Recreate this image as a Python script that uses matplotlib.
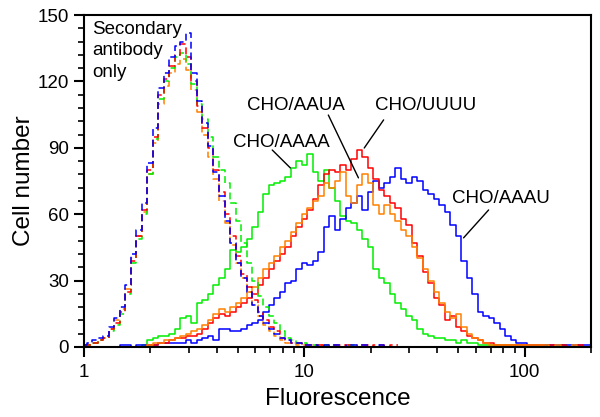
import numpy as np
import matplotlib
matplotlib.use("Agg")
import matplotlib.pyplot as plt
from matplotlib.ticker import FixedLocator, LogLocator, NullFormatter, FixedFormatter

plt.rcParams['font.family'] = ['Liberation Sans', 'DejaVu Sans']

# channel grid: log10(fluorescence) in steps of 0.025 decade, 1 .. ~200
log_step = 0.025
n_channels = 93
fluor = 10 ** (np.arange(n_channels) * log_step)

# ---- secondary antibody only (dashed) ----
sec_blue = [1, 2, 3, 4, 5, 9, 13, 18, 28, 42, 53, 65, 83, 99, 117, 124, 131, 136, 138, 142,
            124, 111, 101, 91, 79, 68, 57, 47, 38, 31, 25, 19, 14, 11, 8, 6, 4, 3, 2, 2,
            1, 1, 1, 0, 1, 1, 1, 0, 1, 1, 1, 1, 0, 0, 1, 0]
sec_red = [1, 1, 2, 3, 4, 8, 11, 16, 25, 39, 50, 62, 80, 95, 114, 121, 127, 132, 137, 131,
           120, 109, 99, 90, 80, 70, 60, 50, 41, 33, 27, 21, 16, 12, 9, 7, 4, 3, 2, 2,
           1, 1, 1, 1, 0, 1, 1, 1, 1, 0, 1, 1, 0, 1, 1, 0, 1, 1]
sec_green = [1, 1, 2, 3, 4, 7, 10, 15, 24, 38, 49, 60, 78, 94, 112, 120, 126, 131, 133, 128,
             119, 110, 103, 95, 86, 80, 74, 65, 57, 47, 38, 30, 23, 18, 14, 11, 7, 4, 3, 2,
             2, 1, 1, 1, 1, 0, 1, 0, 1, 1, 0, 0]
sec_orange = [1, 1, 2, 3, 4, 8, 12, 17, 26, 40, 50, 61, 78, 92, 110, 118, 124, 128, 130, 125,
              116, 106, 96, 86, 76, 66, 56, 46, 38, 31, 25, 19, 14, 10, 7, 5, 3, 2, 2, 1,
              1, 1, 0, 1, 1, 0, 1]

# ---- specific staining (solid) ----
cho_aaaa = [0, 0, 0, 0, 0, 0, 0, 0, 0, 0, 0, 1, 3, 4, 5, 5, 6, 8, 13, 14,
            11, 20, 21, 24, 28, 31, 35, 44, 43, 45, 49, 54, 61, 69, 73, 74, 75, 77, 81, 84,
            82, 87, 79, 75, 80, 72, 66, 59, 57, 56, 53, 49, 45, 35, 31, 29, 24, 20, 17, 14,
            12, 8, 6, 5, 4, 4, 3, 3, 2, 3, 2, 2, 1, 1, 1, 1, 1, 1, 1, 1,
            1, 0, 1, 0, 1, 0, 0, 1, 0, 0, 0, 0, 0]
cho_uuuu = [0, 0, 0, 0, 0, 0, 0, 0, 0, 0, 0, 0, 1, 1, 2, 2, 3, 4, 4, 5,
            5, 6, 8, 11, 13, 15, 14, 16, 18, 20, 22, 24, 28, 31, 35, 39, 42, 45, 50, 54,
            58, 62, 67, 73, 78, 80, 79, 82, 80, 85, 89, 86, 81, 76, 71, 68, 65, 63, 58, 55,
            47, 41, 34, 29, 22, 19, 12, 14, 9, 7, 5, 4, 3, 2, 2, 1, 1, 1, 1, 1,
            1, 1, 1, 1, 0, 1, 0, 1, 0, 0, 1, 0, 0]
cho_aaua = [0, 0, 0, 0, 0, 0, 0, 0, 0, 0, 0, 0, 1, 2, 2, 3, 3, 4, 5, 6,
            7, 8, 10, 12, 15, 17, 16, 18, 20, 22, 25, 27, 31, 35, 38, 41, 45, 48, 52, 56,
            60, 63, 66, 68, 74, 72, 75, 79, 68, 65, 73, 78, 74, 64, 60, 64, 60, 57, 53, 50,
            45, 40, 35, 30, 25, 20, 16, 13, 15, 9, 6, 4, 3, 2, 1, 1, 1, 1, 1, 1,
            1, 1, 1, 1, 1, 0, 1, 0, 0, 1, 0, 0, 0]
cho_aaau = [0, 0, 0, 0, 0, 0, 0, 1, 1, 0, 1, 1, 1, 1, 2, 2, 2, 2, 2, 3,
            2, 3, 4, 5, 3, 8, 8, 7, 7, 8, 10, 11, 12, 16, 19, 22, 25, 29, 30, 35,
            38, 37, 39, 43, 54, 59, 53, 58, 63, 65, 68, 62, 70, 75, 72, 74, 77, 81, 76, 74,
            77, 75, 71, 69, 67, 64, 61, 55, 50, 39, 31, 24, 16, 14, 13, 11, 8, 5, 3, 2,
            2, 1, 1, 1, 1, 1, 1, 1, 1, 1, 1, 1, 1]

BLUE, RED, ORANGE, GREEN = '#0000ff', '#ff0000', '#ff8000', '#00ee00'

fig = plt.figure(figsize=(6.0, 4.17), dpi=100)
ax = fig.add_axes([0.14, 0.168, 0.845, 0.796])

lw = 1.1
dash = (0, (4.5, 2.5))
for vals, col in [(cho_aaaa, GREEN), (cho_aaau, BLUE), (cho_uuuu, RED), (cho_aaua, ORANGE)]:
    ax.step(fluor[:len(vals)], vals, where='mid', color=col, lw=lw)
for vals, col in [(sec_orange, ORANGE), (sec_green, GREEN), (sec_red, RED), (sec_blue, BLUE)]:
    ax.step(fluor[:len(vals)], vals, where='mid', color=col, lw=lw, linestyle=dash)

ax.set_xscale('log')
ax.set_xlim(1, 200)
ax.set_ylim(0, 150)

ax.xaxis.set_major_locator(FixedLocator([1, 10, 100]))
ax.xaxis.set_major_formatter(FixedFormatter(['1', '10', '100']))
ax.xaxis.set_minor_locator(LogLocator(base=10, subs=np.arange(2, 10), numticks=20))
ax.xaxis.set_minor_formatter(NullFormatter())
ax.set_yticks([0, 30, 60, 90, 120, 150])
ax.yaxis.set_minor_locator(FixedLocator(np.arange(0, 151, 6)))

for s in ax.spines.values():
    s.set_linewidth(1.5)
ax.tick_params(which='major', direction='out', length=7, width=1.5, labelsize=13.5, pad=4)
ax.tick_params(which='minor', direction='out', length=4, width=1.2)
ax.tick_params(axis='x', which='major', pad=5)

ax.set_xlabel('Fluorescence', fontsize=17.5, labelpad=5)
ax.set_ylabel('Cell number', fontsize=17.5, labelpad=2)

fs = 13.5
ax.text(1.087, 147.5, 'Secondary\nantibody\nonly', fontsize=fs, ha='left', va='top', linespacing=1.35)
ax.text(7.86, 92.2, 'CHO/AAAA', fontsize=fs, ha='center', va='center')
ax.text(9.2, 108.9, 'CHO/AAUA', fontsize=fs, ha='center', va='center')
ax.text(35.5, 108.9, 'CHO/UUUU', fontsize=fs, ha='center', va='center')
ax.text(77.8, 66.9, 'CHO/AAAU', fontsize=fs, ha='center', va='center')

leader = dict(arrowstyle='-', color='black', lw=1.0, shrinkA=0, shrinkB=0)
ax.annotate('', xy=(8.64, 80.9), xytext=(7.15, 89.0), arrowprops=leader)
ax.annotate('', xy=(17.6, 76.4), xytext=(12.85, 104.8), arrowprops=leader)
ax.annotate('', xy=(18.7, 89.9), xytext=(22.9, 102.6), arrowprops=leader)
ax.annotate('', xy=(52.8, 49.3), xytext=(68.6, 61.9), arrowprops=leader)

fig.savefig('out.png', dpi=100)
